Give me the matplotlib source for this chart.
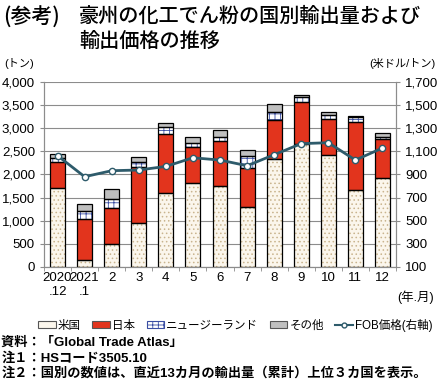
import numpy as np
import matplotlib
matplotlib.use("Agg")
import matplotlib.pyplot as plt
from matplotlib.patches import Patch
from matplotlib.lines import Line2D

plt.rcParams['font.family'] = ['Liberation Sans', 'Noto Sans CJK JP', 'DejaVu Sans']
plt.rcParams['hatch.linewidth'] = 0.6

months = ["2020\n.12", "2021\n.1", "2", "3", "4", "5", "6", "7", "8", "9", "10", "11", "12"]
# tons
usa   = [1697, 159, 491, 939, 1588, 1805, 1740, 1285, 2325, 2657, 2412, 1653, 1921]
japan = [577, 881, 780, 1213, 1286, 794, 982, 845, 845, 910, 787, 1473, 837]
nz    = [87, 173, 187, 108, 144, 72, 94, 267, 173, 115, 79, 123, 43]
other = [72, 137, 224, 108, 94, 130, 137, 123, 180, 44, 65, 15, 94]
# FOB price, USD/ton
fob   = [1062, 880, 932, 938, 969, 1044, 1024, 975, 1070, 1166, 1174, 1024, 1128]

fig = plt.figure(figsize=(4.4, 3.88), dpi=100)
ax = fig.add_axes([0.1, 0.312, 0.8, 0.477])
x = np.arange(len(months))
w = 0.55

b1 = np.array(usa)
b2 = b1 + np.array(japan)
b3 = b2 + np.array(nz)

# hatched fills
ax.bar(x, usa, w, color="#fbf6ec", edgecolor="#c9b48e", hatch="....", lw=0, zorder=2)
ax.bar(x, japan, w, bottom=b1, color="#e2341d", lw=0, zorder=2)
ax.bar(x, nz, w, bottom=b2, color="white", edgecolor="#3a4ea3", hatch="+++", lw=0, zorder=2)
ax.bar(x, other, w, bottom=b3, color="#bfbfbf", lw=0, zorder=2)
# outlines
for vals, bot in [(usa, 0), (japan, b1), (nz, b2), (other, b3)]:
    ax.bar(x, vals, w, bottom=bot, fill=False, edgecolor="black", lw=0.9, zorder=3)

ax.set_xlim(-0.5, len(months) - 0.5)
ax.set_ylim(0, 4000)
ax.set_yticks(np.arange(0, 4001, 500))
ax.set_yticklabels([f"{v:,}" for v in range(0, 4001, 500)])
ax.yaxis.grid(True, color="#8c8c8c", lw=0.8, zorder=0)
ax.set_axisbelow(True)
ax.set_xticks(x)
ax.set_xticklabels(months)
ax.set_xticks(np.arange(-0.5, len(months)), minor=True)
ax.tick_params(axis="x", which="major", length=0, labelsize=9.5, pad=4)
ax.tick_params(axis="x", which="minor", length=3, color="#8c8c8c", direction="out")
ax.tick_params(axis="y", labelsize=9.5, length=3, color="#8c8c8c")
ax.spines["top"].set_visible(False)
for s in ["left", "right", "bottom"]:
    ax.spines[s].set_color("#8c8c8c")

ax2 = ax.twinx()
ax2.plot(x, fob, color="#2e5b6b", lw=2, marker="o", ms=4.5, mfc="white", mec="#2e5b6b", mew=1, zorder=5)
ax2.set_ylim(100, 1700)
ax2.set_yticks(np.arange(100, 1701, 200))
ax2.set_yticklabels([f"{v:,}" for v in range(100, 1701, 200)])
ax2.tick_params(axis="y", labelsize=9.5, length=3, color="#8c8c8c")
ax2.spines["top"].set_visible(False)
for s in ["left", "right", "bottom"]:
    ax2.spines[s].set_color("#8c8c8c")

fig.text(0.008, 0.982, "(参考)", fontsize=15, va="top", ha="left", fontweight="medium",
         family="Noto Sans CJK JP")
fig.text(0.18, 0.982, "豪州の化工でん粉の国別輸出量および\n輸出価格の推移", fontsize=14.5, va="top", ha="left",
         linespacing=1.35, fontweight="medium", family="Noto Sans CJK JP")
fig.text(0.01, 0.837, "(トン)", fontsize=8, va="center")
fig.text(0.99, 0.837, "(米ドル/トン)", fontsize=8, va="center", ha="right")
fig.text(0.985, 0.233, "(年.月)", fontsize=9, va="center", ha="right")

handles = [
    Patch(facecolor="#fbf6ec", edgecolor="#555555", lw=0.8),
    Patch(facecolor="#e2341d", edgecolor="#555555", lw=0.8),
    Patch(facecolor="white", edgecolor="#3a4ea3", hatch="+++", lw=0.8),
    Patch(facecolor="#bfbfbf", edgecolor="#555555", lw=0.8),
    Line2D([0], [0], color="#2e5b6b", lw=1.5, marker="o", ms=3.5, mfc="white", mec="#2e5b6b"),
]
labels = ["米国", "日本", "ニュージーランド", "その他", "FOB価格(右軸)"]
fig.legend(handles, labels, loc="center", bbox_to_anchor=(0.535, 0.162), ncol=5, frameon=False,
           fontsize=8.3, handlelength=1.5, handleheight=0.6, handletextpad=0.2, columnspacing=1.0)

notes = ["資料：「Global Trade Atlas」", "注１：HSコード3505.10",
         "注２：国別の数値は、直近13カ月の輸出量（累計）上位３カ国を表示。"]
for i, t in enumerate(notes):
    fig.text(0.003, 0.116 - i * 0.039, t, fontsize=9.5, va="center", ha="left", fontweight="bold")

fig.savefig("out.png", dpi=100)
